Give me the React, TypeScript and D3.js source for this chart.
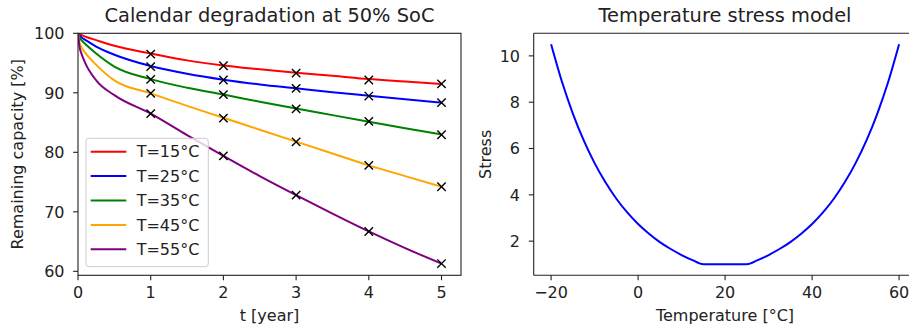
import React from "react";
import * as d3 from "d3";

const years = [0, 0.02, 0.05, 0.1, 0.25, 0.5, 1, 1.5, 2, 2.5, 3, 3.5, 4, 4.5, 5];
const cap15 = [100, 99.85, 99.7, 99.45, 98.85, 97.9, 96.6, 95.45, 94.6, 93.95, 93.35, 92.85, 92.3, 91.9, 91.5];
const cap25 = [100, 99.65, 99.3, 98.9, 97.75, 96.4, 94.5, 93.2, 92.2, 91.4, 90.75, 90.1, 89.5, 88.9, 88.35];
const cap35 = [100, 99.3, 98.8, 98.2, 96.6, 94.4, 92.3, 90.85, 89.7, 88.5, 87.35, 86.25, 85.15, 84.05, 83.0];
const cap45 = [100, 98.5, 97.6, 96.7, 94.7, 92.1, 89.9, 87.8, 85.8, 83.8, 81.8, 79.8, 77.8, 76.0, 74.2];
const cap55 = [100, 97.8, 96.5, 95.0, 92.1, 89.6, 86.5, 82.9, 79.4, 76.0, 72.8, 69.7, 66.7, 63.9, 61.3];

const markerYears = [1, 2, 3, 4, 5];
const meas15 = [96.5, 94.55, 93.3, 92.15, 91.5];
const meas25 = [94.4, 92.15, 90.75, 89.45, 88.35];
const meas35 = [92.25, 89.7, 87.3, 85.2, 82.95];
const meas45 = [89.9, 85.75, 81.75, 77.8, 74.2];
const meas55 = [86.5, 79.4, 72.8, 66.7, 61.3];

const seriesLabels = ["T=15°C", "T=25°C", "T=35°C", "T=45°C", "T=55°C"];
const seriesColors = ["red", "blue", "green", "orange", "purple"];
const capSeries = [cap15, cap25, cap35, cap45, cap55];
const measSeries = [meas15, meas25, meas35, meas45, meas55];

const xTicksLeft = [0, 1, 2, 3, 4, 5];
const yTicksLeft = [60, 70, 80, 90, 100];

const temps = [-20, -17.5, -15, -12.5, -10, -7.5, -5, -2.5, 0, 2.5, 5, 7.5, 10, 12.5, 15, 17.5, 20, 22.5, 25, 27.5, 30, 32.5, 35, 37.5, 40, 42.5, 45, 47.5, 50, 52.5, 55, 57.5, 60];
const stress = [10.5, 8.88, 7.51, 6.35, 5.37, 4.54, 3.83, 3.24, 2.74, 2.32, 1.96, 1.66, 1.4, 1.18, 1.0, 1.0, 1.0, 1.0, 1.0, 1.18, 1.4, 1.66, 1.96, 2.32, 2.74, 3.24, 3.83, 4.54, 5.37, 6.35, 7.51, 8.88, 10.5];
const xTicksRight = [-20, 0, 20, 40, 60];
const yTicksRight = [2, 4, 6, 8, 10];

const FONT = "DejaVu Sans, sans-serif";
const TXT = "#222";
const TOP = 33.3;
const BOTTOM = 275.3;
const FS = 16;
const TFS = 19.4;

export default function App() {
  const xL = d3.scaleLinear().domain([0, 5.268]).range([78, 461]);
  const yL = d3.scaleLinear().domain([59.33, 100]).range([BOTTOM, TOP]);
  const xR = d3.scaleLinear().domain([-24, 64]).range([533.7, 916.5]);
  const yR = d3.scaleLinear().domain([0.525, 10.975]).range([BOTTOM, TOP]);

  const lineL = (vals: number[]) =>
    d3
      .line<number>()
      .x((_, i) => xL(years[i]))
      .y((v) => yL(v))
      .curve(d3.curveMonotoneX)(vals) || "";

  const lineR =
    d3
      .line<number>()
      .x((_, i) => xR(temps[i]))
      .y((v) => yR(v))
      .curve(d3.curveMonotoneX)(stress) || "";

  const ms = 4.2;
  const legX = 86;
  const legY = 138.3;
  const legW = 122.3;
  const legH = 128.4;

  return (
    <svg
      width={909}
      height={332}
      style={{ position: "fixed", left: 0, top: 0, background: "white" }}
      fontFamily={FONT}
    >
      <defs>
        <clipPath id="clipL">
          <rect x={78} y={TOP} width={461 - 78} height={BOTTOM - TOP} />
        </clipPath>
      </defs>
      <rect x={0} y={0} width={909} height={332} fill="white" />

      {/* Left plot */}
      <g clipPath="url(#clipL)">
        {capSeries.map((vals, si) => (
          <g key={si}>
            <path d={lineL(vals)} fill="none" stroke={seriesColors[si]} strokeWidth={2} />
            {measSeries[si].map((v, j) => {
              const cx = xL(markerYears[j]);
              const cy = yL(v);
              return (
                <g key={j} stroke="black" strokeWidth={1.4}>
                  <line x1={cx - ms} y1={cy - ms} x2={cx + ms} y2={cy + ms} />
                  <line x1={cx - ms} y1={cy + ms} x2={cx + ms} y2={cy - ms} />
                </g>
              );
            })}
          </g>
        ))}
      </g>
      <rect x={78} y={TOP} width={461 - 78} height={BOTTOM - TOP} fill="none" stroke={TXT} strokeWidth={1.1} />
      {xTicksLeft.map((t) => (
        <g key={t}>
          <line x1={xL(t)} x2={xL(t)} y1={BOTTOM} y2={BOTTOM + 4.9} stroke={TXT} strokeWidth={1.1} />
          <text x={xL(t)} y={298.3} textAnchor="middle" fontSize={FS} fill={TXT}>
            {t}
          </text>
        </g>
      ))}
      {yTicksLeft.map((t) => (
        <g key={t}>
          <line x1={78 - 4.9} x2={78} y1={yL(t)} y2={yL(t)} stroke={TXT} strokeWidth={1.1} />
          <text x={64.5} y={yL(t) + 5.8} textAnchor="end" fontSize={FS} fill={TXT}>
            {t}
          </text>
        </g>
      ))}
      <text x={269.5} y={22.3} textAnchor="middle" fontSize={TFS} fill={TXT}>
        Calendar degradation at 50% SoC
      </text>
      <text x={269.5} y={321} textAnchor="middle" fontSize={FS} fill={TXT}>
        t [year]
      </text>
      <text
        transform={`translate(23.3,${(TOP + BOTTOM) / 2}) rotate(-90)`}
        textAnchor="middle"
        fontSize={FS}
        fill={TXT}
      >
        Remaining capacity [%]
      </text>

      {/* Legend */}
      <rect x={legX} y={legY} width={legW} height={legH} rx={3} fill="white" fillOpacity={0.8} stroke="#cccccc" strokeWidth={1} />
      {seriesLabels.map((lab, i) => {
        const yy = 151.7 + i * 24.4;
        return (
          <g key={lab}>
            <line x1={90.7} x2={126.3} y1={yy} y2={yy} stroke={seriesColors[i]} strokeWidth={2} />
            <text x={136.7} y={yy + 5.6} fontSize={FS} fill={TXT}>
              {lab}
            </text>
          </g>
        );
      })}

      {/* Right plot */}
      <path d={lineR} fill="none" stroke="blue" strokeWidth={2} />
      <line x1={533.7} x2={916.5} y1={TOP} y2={TOP} stroke={TXT} strokeWidth={1.1} />
      <line x1={533.7} x2={916.5} y1={BOTTOM} y2={BOTTOM} stroke={TXT} strokeWidth={1.1} />
      <line x1={533.7} x2={533.7} y1={TOP} y2={BOTTOM} stroke={TXT} strokeWidth={1.1} />
      {xTicksRight.map((t) => (
        <g key={t}>
          <line x1={xR(t)} x2={xR(t)} y1={BOTTOM} y2={BOTTOM + 4.9} stroke={TXT} strokeWidth={1.1} />
          <text x={xR(t)} y={298.3} textAnchor="middle" fontSize={FS} fill={TXT}>
            {t < 0 ? `\u2212${Math.abs(t)}` : t}
          </text>
        </g>
      ))}
      {yTicksRight.map((t) => (
        <g key={t}>
          <line x1={533.7 - 4.9} x2={533.7} y1={yR(t)} y2={yR(t)} stroke={TXT} strokeWidth={1.1} />
          <text x={520} y={yR(t) + 5.8} textAnchor="end" fontSize={FS} fill={TXT}>
            {t}
          </text>
        </g>
      ))}
      <text x={725} y={22.3} textAnchor="middle" fontSize={TFS} fill={TXT}>
        Temperature stress model
      </text>
      <text x={725} y={321} textAnchor="middle" fontSize={FS} fill={TXT}>
        Temperature [°C]
      </text>
      <text
        transform={`translate(491,${(TOP + BOTTOM) / 2}) rotate(-90)`}
        textAnchor="middle"
        fontSize={FS}
        fill={TXT}
      >
        Stress
      </text>
    </svg>
  );
}
